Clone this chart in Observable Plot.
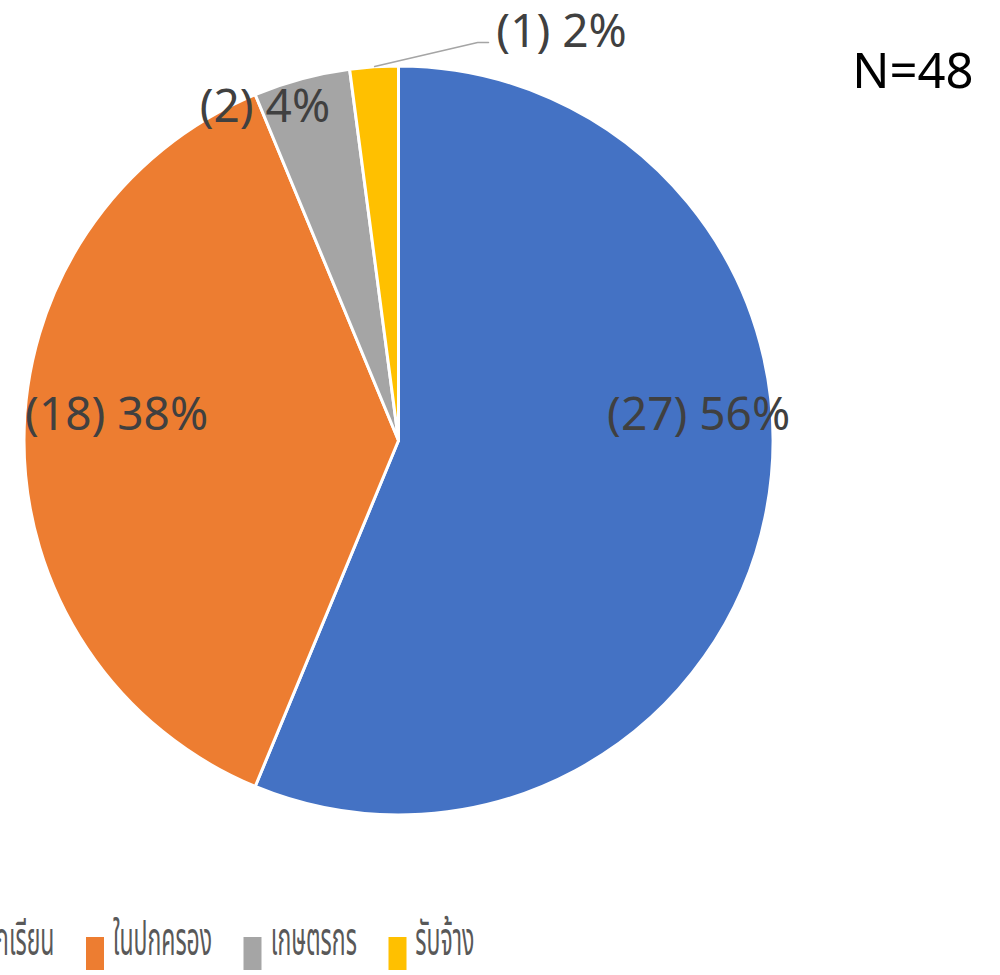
<!DOCTYPE html>
<html><head><meta charset="utf-8">
<script src="https://cdn.jsdelivr.net/npm/d3@7"></script>
<script src="https://cdn.jsdelivr.net/npm/@observablehq/plot@0.6"></script>
<style>
body{margin:0;background:#fff;overflow:hidden;width:1000px;height:975px;position:relative;font-family:"Noto Sans","Open Sans",sans-serif}
#legend{position:absolute;top:906px;left:0;display:flex;align-items:center;white-space:nowrap;transform:scale(0.5,1);transform-origin:0 0;color:#595959;font-size:46px;font-family:"Noto Sans Thai","Noto Sans",sans-serif}
.item{display:flex;align-items:center;margin-right:63px}
.sw{display:inline-block;width:36px;height:33px;margin-right:18px;position:relative;top:12px}
</style>
</head><body><div id="chart"></div><div id="legend"></div>
<script>
// ---- data ----
const categories = ["นักเรียน", "ในปกครอง", "เกษตรกร", "รับจ้าง"];
const counts = [27, 18, 2, 1];
const colors = ["#4472C4", "#ED7D31", "#A5A5A5", "#FFC000"];
const totalLabel = "N=48";

// ---- layout (unit-circle coordinates, not data) ----
const labelAnchors = [[0.80, 0.068], [-0.754, 0.068], [-0.358, 0.89], [0.434, 1.092]];
const leaderLine = [{x: -0.065, y: 1.0}, {x: 0.21, y: 1.064}, {x: 0.239, y: 1.064}];

const total = d3.sum(counts);
const pieData = categories.map((c, i) => ({category: c, count: counts[i]}));
const arcs = d3.pie().value(d => d.count).sort(null)(pieData);
const colorScale = Plot.scale({color: {type: "ordinal", domain: categories, range: colors}});

const labelData = pieData.map((d, i) => ({
  text: `(${d.count}) ${Math.round(d.count / total * 100)}%`,
  x: labelAnchors[i][0], y: labelAnchors[i][1]
}));

function pieMark(index, scales) {
  const cx = scales.x(0), cy = scales.y(0), r = scales.x(1) - scales.x(0);
  const g = d3.create("svg:g").attr("transform", `translate(${cx},${cy})`);
  const arcGen = d3.arc().innerRadius(0).outerRadius(r);
  g.selectAll("path").data(arcs).join("path")
    .attr("d", arcGen)
    .attr("fill", d => colorScale.apply(d.data.category))
    .attr("stroke", "#fff").attr("stroke-width", 3).attr("stroke-linejoin", "round");
  return g.node();
}

const chart = Plot.plot({
  width: 1000, height: 900,
  margin: 0,
  x: {domain: [-1, 1], range: [24, 773], axis: null},
  y: {domain: [-1, 1], range: [815, 66], axis: null},
  style: {background: "#fff", fontFamily: "'Noto Sans','Open Sans',sans-serif", overflow: "visible"},
  marks: [
    pieMark,
    Plot.line(leaderLine, {x: "x", y: "y", stroke: "#A5A5A5", strokeWidth: 1.5}),
    Plot.text(labelData, {x: "x", y: "y", text: "text", fill: "#404040", fontSize: 46, textAnchor: "middle"}),
    Plot.text([totalLabel], {x: 1.534, y: 0.985, text: d => d, fill: "#000", fontSize: 49, textAnchor: "end"})
  ]
});
document.getElementById("chart").appendChild(chart);

// legend
const legend = d3.select("#legend");
const items = legend.selectAll(".item").data(categories).join("div").attr("class", "item");
items.append("span").attr("class", "sw").style("background", d => colorScale.apply(d));
items.append("span").text(d => d);
// shift so the second swatch lands where the reference puts it
const sw2 = document.querySelectorAll(".sw")[1].getBoundingClientRect().left;
document.getElementById("legend").style.left = (86 - sw2) + "px";
</script>
</body></html>
